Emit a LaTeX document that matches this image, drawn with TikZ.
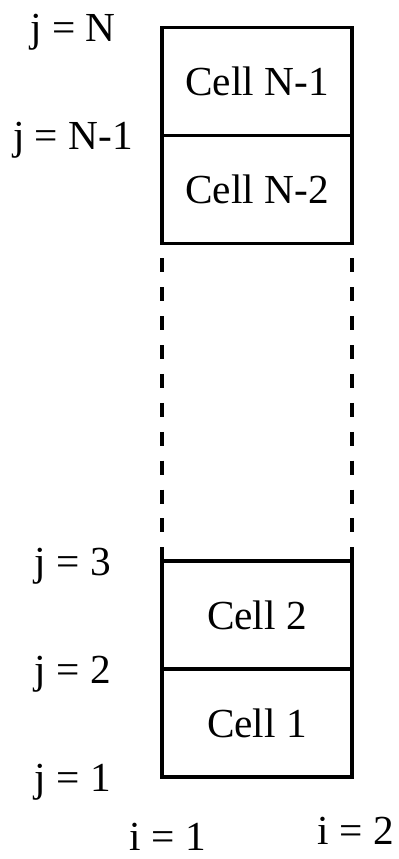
\documentclass[tikz,border=0pt]{standalone}
\usepackage{fontspec}
\setmainfont{Liberation Serif}
\usetikzlibrary{positioning, calc}

\begin{document}
\begin{tikzpicture}[
  cell/.style = {draw, line width=1.8pt, minimum width=3.8cm, minimum height=2.16cm, inner sep=0pt, outer sep=0pt},
  gridline/.style = {line width=1.8pt, dash pattern=on 0.28cm off 0.298cm, dash phase=0.28cm},
  jlab/.style = {anchor=base, yshift=-0.29cm},
  ilab/.style = {anchor=base, inner sep=0pt},
  every node/.style = {font=\fontsize{23.5}{28}\selectfont}
]

% Frame
\useasboundingbox (0,0) rectangle (7.96,17.18);

% Upper cells
\node[cell] (cellN1) at (5.14,15.55) {Cell N-1};
\node[cell, below=0pt of cellN1] (cellN2) {Cell N-2};

% Lower cells
\node[cell] (cell1) at (5.14,2.72) {Cell 1};
\node[cell, above=0pt of cell1] (cell2) {Cell 2};

% Omitted cells
\draw[gridline] (cellN2.south west) -- (cell2.north west);
\draw[gridline] (cellN2.south east) -- (cell2.north east);

% j labels
\coordinate (jcol) at (1.46,0);
\node[jlab] (jN) at (jcol |- cellN1.north) {j = N};
\node[jlab] (jN1) at (jcol |- cellN1.south) {j = N-1};
\node[jlab] (j3) at (jcol |- cell2.north) {j = 3};
\node[jlab] (j2) at (jcol |- cell2.south) {j = 2};
\node[jlab] (j1) at (jcol |- cell1.south) {j = 1};

% i labels
\node[ilab] (i1) at ($(cell1.south west)+(0.12,-1.46)$) {i = 1};
\node[ilab] (i2) at ($(cell1.south east)+(0.08,-1.36)$) {i = 2};

\end{tikzpicture}
\end{document}
